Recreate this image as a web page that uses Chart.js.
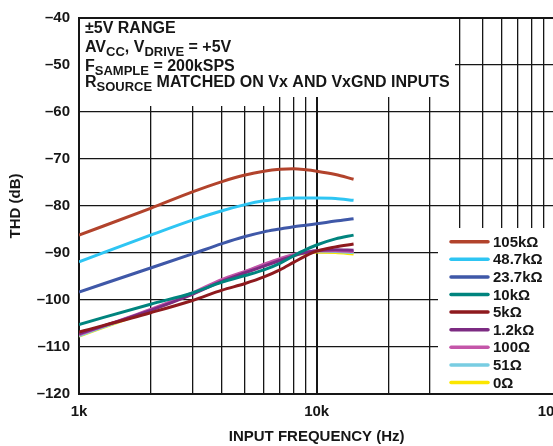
<!DOCTYPE html>
<html>
<head>
<meta charset="utf-8">
<title>THD vs Input Frequency</title>
<script src="https://cdn.jsdelivr.net/npm/chart.js@4.4.1/dist/chart.umd.min.js"></script>
<style>
  html, body { margin: 0; padding: 0; background: #fff; overflow: hidden; }
  #wrap { width: 580px; height: 446px; }
</style>
</head>
<body>
<div id="wrap"><canvas id="thd-chart" width="580" height="446"></canvas></div>
<script>
// Input frequency (Hz) of the sample points
const freqs = [1000, 2000, 3000, 4000, 5000, 6000, 7000, 8000, 9000, 10000, 12000, 14300];

// THD (dB) for each source resistance
const thd105k = [-86.2, -80.5, -77.0, -74.8, -73.4, -72.6, -72.2, -72.1, -72.3, -72.6, -73.3, -74.3];
const thd48k7 = [-91.9, -86.2, -83.0, -81.0, -79.7, -78.9, -78.5, -78.3, -78.3, -78.3, -78.4, -78.8];
const thd23k7 = [-98.3, -93.2, -90.2, -88.0, -86.5, -85.5, -84.9, -84.4, -84.1, -83.8, -83.2, -82.7];
const thd10k = [-105.2, -100.9, -98.5, -96.2, -94.8, -93.6, -92.2, -90.6, -89.3, -88.3, -87.0, -86.2];
const thd5k = [-106.8, -102.7, -100.1, -97.9, -96.5, -95.1, -93.6, -92.0, -90.6, -89.6, -88.7, -88.1];
const thd1k2 = [-107.2, -102.2, -98.8, -96.0, -94.2, -92.8, -91.6, -90.6, -89.9, -89.5, -89.3, -89.4];
const thd100 = [-107.4, -102.0, -98.5, -95.6, -93.9, -92.4, -91.2, -90.3, -89.8, -89.5, -89.5, -89.7];
const thd51 = [-107.6, -102.1, -98.6, -95.8, -94.0, -92.5, -91.3, -90.4, -89.9, -89.6, -89.7, -89.9];
const thd0 = [-107.7, -102.2, -98.7, -95.9, -94.1, -92.6, -91.4, -90.5, -90.0, -89.8, -89.9, -90.2];

const seriesLabels = ["105k\u03A9", "48.7k\u03A9", "23.7k\u03A9", "10k\u03A9", "5k\u03A9", "1.2k\u03A9", "100\u03A9", "51\u03A9", "0\u03A9"];
const seriesColors = ["#b2432c", "#2ec5f3", "#3f58a8", "#00847e", "#8e1a1e", "#7c2b82", "#c456a9", "#78cde2", "#fbe600"];
const seriesValues = [thd105k, thd48k7, thd23k7, thd10k, thd5k, thd1k2, thd100, thd51, thd0];

// Axis ticks
const xGrid = [1000, 2000, 3000, 4000, 5000, 6000, 7000, 8000, 9000,
  10000, 20000, 30000, 40000, 50000, 60000, 70000, 80000, 90000, 100000];
const xTickLabels = { 1000: "1k", 10000: "10k", 100000: "100k" };
const yMin = -120, yMax = -40, yStep = 10;

// Condition text in the top-left box: [text, isSubscript]
const noteLines = [
  [["\u00B15V RANGE", 0]],
  [["AV", 0], ["CC", 1], [", V", 0], ["DRIVE", 1], [" = +5V", 0]],
  [["F", 0], ["SAMPLE", 1], [" = 200kSPS", 0]],
  [["R", 0], ["SOURCE", 1], [" MATCHED ON Vx AND VxGND INPUTS", 0]],
];

const FONT = "'Liberation Sans', Arial, Helvetica, sans-serif";
const INK = "#161616";

Chart.defaults.font.family = FONT;
Chart.defaults.font.weight = "bold";
Chart.defaults.font.size = 15;
Chart.defaults.color = INK;

// White boxes with the note text and the legend, drawn over the grid
const boxesPlugin = {
  id: "boxes",
  beforeDatasetsDraw(chart) {
    const ctx = chart.ctx;
    const area = chart.chartArea;
    ctx.save();
    ctx.fillStyle = "#fff";
    // note box (stepped bottom edge)
    ctx.fillRect(area.left + 1, area.top + 1, 272 - area.left, 105 - area.top);
    ctx.fillRect(272, area.top + 1, 455 - 272, 96 - area.top);
    // legend box
    ctx.fillRect(438, 228, area.right - 438, area.bottom - 1 - 228);

    // note text
    ctx.fillStyle = INK;
    ctx.textBaseline = "alphabetic";
    const baselines = [32.5, 51.5, 70.5, 86.5];
    noteLines.forEach((parts, i) => {
      let x = 85;
      parts.forEach(([txt, sub]) => {
        ctx.font = "bold " + (sub ? 13 : 16) + "px " + FONT;
        ctx.fillText(txt, x, baselines[i] + (sub ? 4 : 0));
        x += ctx.measureText(txt).width;
      });
    });

    // legend
    ctx.font = "bold 15px " + FONT;
    ctx.textBaseline = "middle";
    chart.data.datasets.forEach((ds, i) => {
      const y = 241.7 + i * 17.6;
      ctx.strokeStyle = ds.borderColor;
      ctx.lineWidth = 3.5;
      ctx.lineCap = "round";
      ctx.beginPath();
      ctx.moveTo(451, y);
      ctx.lineTo(488, y);
      ctx.stroke();
      ctx.fillStyle = INK;
      ctx.fillText(ds.label, 493, y + 1);
    });
    ctx.restore();
  },
};

const datasets = seriesLabels.map((label, i) => ({
  label: label,
  data: freqs.map((f, j) => ({ x: f, y: seriesValues[i][j] })),
  borderColor: seriesColors[i],
  backgroundColor: seriesColors[i],
  borderWidth: 3,
  pointRadius: 0,
  fill: false,
  cubicInterpolationMode: "monotone",
}));

const chartCtx = document.getElementById("thd-chart").getContext("2d");
new Chart(chartCtx, {
  type: "line",
  data: { datasets: datasets },
  options: {
    responsive: false,
    animation: false,
    devicePixelRatio: 1,
    layout: { padding: { top: 13, right: 25, left: 0, bottom: 0 } },
    plugins: {
      legend: { display: false },
      tooltip: { enabled: false },
    },
    scales: {
      x: {
        type: "logarithmic",
        min: xGrid[0],
        max: xGrid[xGrid.length - 1],
        afterBuildTicks: (scale) => {
          scale.ticks = xGrid.map((v) => ({ value: v }));
        },
        afterFit: (scale) => {
          scale.height = 52;
        },
        ticks: {
          autoSkip: false,
          maxRotation: 0,
          padding: 9,
          callback: (v) => xTickLabels[v] || "",
        },
        grid: {
          color: INK,
          lineWidth: (c) => (c.tick && xTickLabels[c.tick.value] ? 2 : 1.3),
          drawTicks: false,
        },
        border: { color: INK, width: 2 },
        title: {
          display: true,
          text: "INPUT FREQUENCY (Hz)",
          padding: { top: 0, bottom: 0 },
        },
      },
      y: {
        min: yMin,
        max: yMax,
        afterFit: (scale) => {
          scale.width = 79;
        },
        ticks: {
          stepSize: yStep,
          padding: 9,
          callback: (v) => String(v).replace("-", "\u2013"),
        },
        grid: {
          color: INK,
          lineWidth: (c) => (c.tick && c.tick.value === yMax ? 2 : 1.3),
          drawTicks: false,
        },
        border: { color: INK, width: 2 },
        title: {
          display: true,
          text: "THD (dB)",
          padding: { top: 7, bottom: 0 },
        },
      },
    },
  },
  plugins: [boxesPlugin],
});
</script>
</body>
</html>
